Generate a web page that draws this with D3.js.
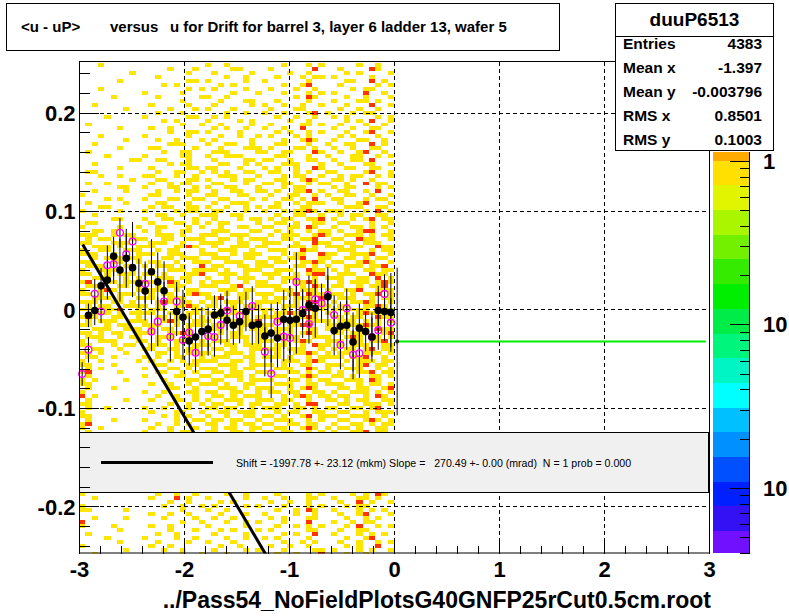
<!DOCTYPE html>
<html><head><meta charset="utf-8">
<script src="https://cdn.jsdelivr.net/npm/d3@7"></script>
<style>
body{margin:0;background:#fff}
text{font-family:"Liberation Sans",Arial,Helvetica,sans-serif}
</style>
</head><body>
<svg id="c" width="789" height="616" xmlns="http://www.w3.org/2000/svg"></svg>
<script>
// ---------------- data ----------------
const xTicks = [-3, -2, -1, 0, 1, 2, 3];
const yTicks = [-0.2, -0.1, 0, 0.1, 0.2];
const titleParts = ["<u - uP>", "versus", "u for Drift for barrel 3, layer 6 ladder 13, wafer 5"];
const xAxisTitle = "../Pass54_NoFieldPlotsG40GNFP25rCut0.5cm.root";
const statName = "duuP6513";
const statLabels = ["Entries", "Mean x", "Mean y", "RMS x", "RMS y"];
const statValues = ["4383", "-1.397", "-0.003796", "0.8501", "0.1003"];
const legendText = "Shift = -1997.78 +- 23.12 (mkm) Slope =   270.49 +- 0.00 (mrad)  N = 1 prob = 0.000";

// 2D histogram: x bins of 0.06 from -3, y bins of 0.004 from 0.25 downward
// '.' empty, 'y' low content (yellow), 'r' higher content (red)
const cellX0 = -3, cellDX = 0.06, cellY0 = 0.25, cellDY = 0.004;
const cellRows = [
"...y...... .......... y..y...... ..y...y.y. ....y..y..",
".......... ....y...y. ....yy.... y......r.. .y....ry..",
"........y. .......y.. .y.....y.. ...y..y... ..y.y....y",
".......... ..y....... ...y..y... .y...y.yy. y.....y...",
"......y... .......yy. y.....y..y ......y... ..yy..r.y.",
".......... ...y.y.... ..y.y..... ..y..yr... .y.....y.y",
"...y...... .......y.y .y....y... y...y..y.. ...y.yy...",
".......... y.....y... ....y...y. ..y...y.y. y....r..y.",
".....y.... ..y......y y..y...... ....y.ry.. ..y..y...y",
".......... ......y... ..y...yy.. .y....y... y...yy.y..",
"..y....... .y.....y.. .y.....y.y ..y..y..y. ..y...r..y",
".......y.. ....y...y. y...y..... y...yy.... .y..y..y..",
".......... ..y...y... ...y..y..y ..y...yr.y ...y.yy...",
"....y..... y......yy. .y.y...... .y..y..y.. y.y....y.y",
".......... ...y.y.... y....y.y.. ...y..y... ..y.y.r..y",
".y........ ......y..y ..y....y.. y....yy.y. .y...y..y.",
"......y... .y..y..... .y.y..y..y ..y..r.... y..y..yy..",
".......... ....y..yy. y....y.... .y.y..y.y. ..y..yr..y",
"...y...... y......y.. ..y..y..y. y...y.y... .y.y...y..",
".......y.. ..y..y...y .y.....y.. ..y..yry.. y...yy..y.",
"..y....... ....yyy... y..yy..y.. .yy...y..y ..yy..r.y.",
"......y... .yy.....y. ..y...yyy. y...yy.y.. y..y..yy..",
".y........ ...y..yy.. .yyy....yy ..yy...ry. .y..yr..y.",
"....y..... y.....yy.. y..yyy.... .yy...y..y ...yy..y.y",
"........yy ..yy...y.. .y....yy.y y..y..yy.. y..yy.r...",
"..y....... ....y.yy.. ..yy..y.y. ..yyy...y. .y...yy..y",
"......y... .y.....yy. yy...y...y .y..y..ry. ..yy..yy..",
".yy....... ..y..yy..y .y.y..yy.. yy..y.y..y y....yr..y",
"...y..y... yy...y..y. ..yyy...y. ..y.yy..y. .y.yy..y.y",
"........y. ..yy...yy. y...y.yy.. .yy..yry.. yy.y..y...",
".y..y..... .y..y.yy.. .yy...y..y y.yy..y.yy ..y..r.yy.",
"......yy.. y...yy..y. y..yy...y. ..y.yy.... y.yy...y.y",
"..y....y.. ..y..y.yy. .y..yy..yy .y..yyr.y. .yy..y.r..",
"y......... .yy....y.. yy...yy... y..yy..y.y ..yy..y..y",
"....y.y... y...yy..yy ..yy...y.y ..yy.y.r.. yy...y.yy.",
".y.....y.. ..yy...y.. .y..yyy... .y..y.yyy. .y..yr...y",
"...yy..... .y.yy..yy. y..y..y.y. yy...yy... ..yyy..yy.",
"y.....y... y....y.yy. .yy...y..y ..y.yyry.y yy...y.r.y",
"..y....... ..yy..y..y yy..yy.... .y..yy..y. .y.yy..yy.",
".....yy... y..yy...y. .y...y.yy. y.yy..yyr. y..y.yr.yy",
".yy....... .y...yy.y. y.yy....y. .yy.y..yy. .yy...y..y",
"y.....y..y ..yy...y.y ..y..yy..y y..yy.ry.. y..yy.y.y.",
"..yy.y.... y.y...yy.. .yyy...yy. .y.y..y.yy .y..yrr..y",
"yyy..y.yy. ..yyy.y..y yy..yyy... y.yyy..yry ..yyy.y.yy",
".y.yy...yy y..yy..yyy ..yy.y.yyy ..yy.yyr.. yy..ryy..y",
"yy...yyy.. .yyy..y..y yyy..yy..y yy..y..ryy ..yy.yyy..",
"..yyy.y..y yy...yyry. .y..yyy.yy ...yyy.y.y yy.yy..ryy",
"y..yy..yyy ..y.yy...y ..yyy..y.. yyy..ryy.. .yyy..y.yy",
"yyy..y...y yy..yyy..y yy..y.yyy. ..y.yy..ry y..yyyr..y",
"..y.yyy.yy ...yy.yyy. .yyy..yy.. yy.yyr..yy ..yy.y.yy.",
"yy...yy..y .yy..y..yy y..yyy..yy .yy..yyry. yy..yry..y",
".yyy...yy. y.yyy.y..r .yy..yy.yy y...yy.y.y ..yyy.yyr.",
"y..yyy..y. .y..yyy.yy yy.y..yyy. .yyy..ryy. y.y..yy.yy",
"yy..y.yyy. yy.y...yyr ..yyy.y..y yy..y.yrr. .yyy..ryy.",
"..yyy..y.y ..yyy.yy.. y..y.yyy.. y.yyy..y.y yy..yy.r.y",
"yr..yy.yy. yy..ry.y.y .yyy..y.yy ..y.yyry.. .y.yyy.yry",
".yyy..yy.y ..y.yyy..y yy..yr..yy yy...y.ry. yy..y.yyr.",
"y..yry...y yyy..y.yy. ..yyy.yy.. .yyy.yyy.y ..yyr..yyy",
"yy.y..yyy. .y.yy..yry y..y.yy.yy y..yr.ryy. yy.y.yyr.y",
"..yyy.y..y yy..yyy... yyr..yy..y .yy.yyy.ry .yyy..y.yy",
"yyy..yy.y. ..yry.yy.y .y.yyy..yy yy..y.rry. y..yyry..y",
".y.yy..yyy y.y..yyry. yy..y.yyy. ..yyy.y.yy .yy..yyry.",
"yy..yyr..y .yyy.y..yy ..yry..yyy y.y..yrry. yy.yyy..yy",
"..yyy.y.yy yy..yy.yy. yy..yyy..y .yyry..y.y ..y.yryy.y",
"yry..yy..y ..yy.yyy.y .yyy..y.yy yy..yyry.. yy.yy..ryy",
".y.yyy..yy y..yry..yy y..yy.yyr. .yy.y.yyyy .yyy.y.y.y",
"yy..y.yy.. yyy..y.yyy .yy.yyy..y y..yyrr..y y..yyryy..",
"..yyy..yyy .y.yy..y.. yyy..y.yyy .yyy..yy.y .yy..y.ryy",
"yy.y.yy..y yy..yyry.y ..y.yy..yy yy.y.yry.. yy.yyy..yr",
".yyy..y.yy ..yyy..yy. yy..yyy.y. ..yyy..yyy ..yry.yy.y",
"y..yyy...y y.y..yyy.y .yyy..y.yy y.y.yry..y yy..y.yyr.",
"yy...y.yy. .yyy.y..yy y..yy.yyy. .yy..y.ryy .y.yyy..yy",
"..yy..y... yy..yy.yy. .yy.y..yyy yy.yyy..y. y.yy.yr.yy",
"yy.y...y.. ..yy.y.yyy y..yyy.y.. .y..yyry.y .yy..yyy.y",
".yy..y.... y.y..yy..y .yyy..yy.y yy.y..y.yy yy.yyr..y.",
"y..y.....y .y..y.y.yy yy..yy.y.. ..yyy.yry. ..y.yyy.yy",
"yy...y.... ..yy...yy. ..yyy..yyy y.y..yy..y yy..yr.yy.",
".y.y...... y...yy.y.y yy..y.yy.. .yyy..ry.y ..yyy..y.y",
"yr....y... ..yy..y.y. .yy.yy..yy y..yy.y.yy .y..yyr.yy",
".y........ y....yy..y y..yyy.y.. .yy..yry.. yy.y..yy.y",
"y.y....y.. ...y...yy. .yy..y.yyy y..yy.y.yy ..yyy.ry..",
"yy........ .y..y..y.y yy.y..yy.. .yyy..yy.y yy..y.yy.y",
".y...y.... ....yy..y. ..yyy.y.yy y..y.yry.. .yy.yy..yr",
"y......... y..y...yy. yy..yy..y. yy.yy..yy. y..yyy.y.y",
"r.y....... ..y..y..y. .yy.y.yyy. ..y.yry.yy .yy..y.ry.",
".y.....y.. .y...yy.y. y..yyy..yy y.yy..y..y y.y.yy..yy",
"yy........ ....y..y.y .yy..y.yy. .yy.y.rr.. .yy..yyy.y",
".y..y..... y..y...y.. yy.yy..y.y yy..yy.y.y y..yy.yr..",
"y......... .y...yy..y ..yy.yyy.. .y.yy..yy. .yy..y.yyy",
"yy........ ...y.y.y.. y..y..yy.y y.y..yr.yy y..yyy..y.",
".y...y.... y....y..yy .yy.yy..y. .yyy..y.y. .yy..yry.y",
"yr........ ..y..y.y.. yy..y.yy.y y..yy.yy.. y..yy.y.yy",
"y..y...... .y..y...y. .y.yy..yy. .yy..yry.y .yy.y..yy.",
".y........ y...y.yy.. yy..yy.y.y y.yy..y.y. y..yyr.yy.",
"", "", "", "", "", "", "", "", "", "", "", "", "", "", "",
"y......... ..y..y..y. ...y..y... .y....y.y. ...y.y.ry.",
"..y....... .y...r.y.. y.....y..y ..y...yy.. y...yy.y..",
".......... ....y..y.. ..y.y..... y..y..y... .y..r.y..y",
"y......... ...y..y..y .y....y.y. ..y...y.y. ..y.yy....",
"yy.....y.. ......y... y..y...... .y..y.ry.. y...y.y.y.",
".......... .y..y..y.. ..y...y..y ....y..y.. .y..yr...y",
"..y....y.. ...y....y. .y..y..... y.y...yy.. ..y..y.y..",
"r......... ......y..y ...y..y.y. ..y...r... y..y.yy...",
"y....y.... .y..y..... y.....y... .y..y.y.y. ..y.r..y.y",
"......y... ....y...y. ..y.y...y. y.....yy.. .y..yy....",
".y........ ..y..y.... .y....y... ..y.y..r.. y...y.y.y.",
"....y..... y....y..y. ...y..y..y .y....y... ..y..yr...",
"......y... ..y....y.. y...y..... ..y..y.y.. .y..y..y.y",
"y......... .y..y..... ..y..y.... y..y..y... ..y.y..r..",
".......y.. ...y..y... .y....y.y. ..y....yy. y...y.y..y",
"..y....... ......y..y ...y...... .y..y...r. ..y..y...."
];
const cellColors = {y: "#ffe600", r: "#ff3300"};

// profile (black, filled) : bin centre, mean, error
const blackX = [-2.91,-2.85,-2.79,-2.73,-2.67,-2.61,-2.55,-2.49,-2.43,-2.37,-2.31,-2.25,-2.19,
  -2.07,-2.01,-1.95,-1.89,-1.83,-1.77,-1.71,-1.65,-1.59,-1.53,-1.47,-1.41,-1.35,-1.29,-1.23,-1.17,-1.11,-1.05,-0.99,-0.93,-0.87,-0.81,-0.75,
  -0.63,-0.57,-0.51,-0.45,-0.39,-0.33,-0.27,-0.21,-0.15,-0.09,-0.03];
const blackY = [-0.006,-0.001,0.024,0.030,0.054,0.040,0.052,0.0425,0.0266,0.0188,0.0384,0.028,0.019,
  -0.002,-0.008,-0.032,-0.028,-0.0225,-0.020,-0.0056,-0.0039,-0.011,-0.016,-0.0124,-0.002,-0.016,-0.015,-0.027,-0.024,-0.029,-0.010,-0.011,-0.010,-0.004,0.0046,0.0012,
  0.013,-0.0215,-0.017,-0.016,-0.033,-0.019,-0.0225,-0.028,-0.001,-0.002,-0.003];
const blackErr = [0.012,0.015,0.018,0.02,0.02,0.032,0.03,0.03,0.025,0.03,0.033,0.03,0.03,
  0.025,0.028,0.025,0.03,0.025,0.022,0.02,0.02,0.022,0.02,0.022,0.02,0.02,0.02,0.022,0.03,0.03,0.03,0.035,0.035,0.025,0.03,0.03,
  0.03,0.025,0.025,0.025,0.03,0.025,0.02,0.025,0.025,0.03,0.04];

// second profile (magenta, open)
const magX = [-2.97,-2.91,-2.85,-2.79,-2.73,-2.67,-2.61,-2.55,-2.49,-2.37,-2.31,-2.25,-2.19,-2.13,-2.07,-2.01,-1.95,-1.89,
  -1.77,-1.71,-1.65,-1.59,-1.47,-1.35,-1.23,-1.17,-1.11,-1.05,-0.99,-0.93,-0.87,-0.81,-0.75,-0.69,-0.63,-0.57,-0.51,-0.45,-0.39,-0.33,
  -0.21,-0.15,-0.09,-0.03];
const magY = [-0.0656,-0.041,0.016,-0.002,0.045,0.046,0.078,0.056,0.069,0.026,-0.0225,-0.0124,0.008,-0.028,0.008,-0.031,-0.0235,-0.044,
  -0.027,-0.028,-0.0157,-0.001,-0.0066,0.0036,-0.043,-0.065,-0.0124,-0.0276,-0.029,0.028,-0.0005,-0.0147,0.0104,0.0063,0.0147,-0.0056,-0.036,0.0012,-0.046,-0.0445,
  -0.028,-0.021,0.0158,-0.0134];
const magErr = [0.012,0.013,0.015,0.012,0.02,0.02,0.015,0.02,0.02,0.02,0.02,
  0.025,0.02,0.025,0.02,0.02,0.02,0.02,0.02,0.02,0.02,0.02,
  0.02,0.02,0.025,0.025,0.02,0.025,0.025,0.03,0.02,0.02,0.02,
  0.02,0.02,0.02,0.025,0.02,0.025,0.025,0.02,0.02,0.02,0.025];

// edge bin and flat green line
const edgeX = [0.03], edgeY = [-0.0326], edgeErr = [0.075];
const greenX = [0.03, 2.97], greenY = [-0.0326, -0.0326];

// straight-line fit
const fitIntercept = -0.4695, fitSlope = -0.1806;
const fitRange = [-2.965, -1.1];

// colour palette (log z)
const zDomain = [0.0040, 1.138];
const paletteLevels = [1.138,1,0.706,0.499,0.352,0.249,0.176,0.124,0.0877,0.062,0.0438,0.0309,0.0219,0.0154,0.0109,0.0077,0.00544,0.0040];
const paletteColors = ["#ffaa00","#ffe000","#e2f500","#aaf500","#72f000","#35ec00","#00ee00","#00ec48","#00f57c","#00f5c4",
  "#00ffff","#00c0ff","#0090ff","#0050ff","#0020ff","#3410f5","#7010ff"];
const zMajor = [1, 0.1, 0.01];
const zLabels = ["1", "10", "10"];

// ---------------- drawing ----------------
const svg = d3.select("#c");
const L = 79, R = 709, T = 61.5, B = 553.5;
const x = d3.scaleLinear().domain([-3, 3]).range([L, R]);
const y = d3.scaleLinear().domain([-0.248, 0.252]).range([B, T]);

svg.append("defs").append("clipPath").attr("id","plotclip")
  .append("rect").attr("x",L).attr("y",T).attr("width",R-L).attr("height",B-T);

// cells
const cells = [];
cellRows.forEach((row, j) => {
  row.replace(/ /g, "").split("").forEach((ch, i) => {
    if (ch !== "." && i < 50) cells.push({i, j, c: ch});
  });
});
svg.append("g").attr("clip-path","url(#plotclip)").attr("shape-rendering","crispEdges")
  .selectAll("rect").data(cells).join("rect")
  .attr("x", d => x(cellX0 + d.i*cellDX))
  .attr("width", d => x(cellX0 + (d.i+1)*cellDX) - x(cellX0 + d.i*cellDX))
  .attr("y", d => y(cellY0 - d.j*cellDY))
  .attr("height", d => y(cellY0 - (d.j+1)*cellDY) - y(cellY0 - d.j*cellDY))
  .attr("fill", d => cellColors[d.c]);

// grid
const grid = svg.append("g").attr("stroke","#000").attr("stroke-width",1).attr("stroke-dasharray","4,3").attr("shape-rendering","crispEdges");
xTicks.filter(v => v > -3 && v < 3).forEach(v => {
  grid.append("line").attr("x1", Math.round(x(v))+0.5).attr("x2", Math.round(x(v))+0.5).attr("y1", T).attr("y2", B);
});
yTicks.forEach(v => {
  grid.append("line").attr("y1", Math.round(y(v))+0.5).attr("y2", Math.round(y(v))+0.5).attr("x1", L).attr("x2", R);
});

// error bars
const eb = svg.append("g").attr("stroke","#000").attr("stroke-width",1).attr("clip-path","url(#plotclip)");
magX.forEach((v, k) => {
  eb.append("line").attr("x1", x(v)).attr("x2", x(v)).attr("y1", y(magY[k]+magErr[k])).attr("y2", y(magY[k]-magErr[k]));
});
blackX.forEach((v, k) => {
  eb.append("line").attr("x1", x(v)).attr("x2", x(v)).attr("y1", y(blackY[k]+blackErr[k])).attr("y2", y(blackY[k]-blackErr[k]));
});
edgeX.forEach((v, k) => {
  eb.append("line").attr("x1", x(v)).attr("x2", x(v)).attr("y1", y(edgeY[k]+edgeErr[k])).attr("y2", y(edgeY[k]-edgeErr[k]));
});

// markers
svg.append("g").selectAll("circle").data(magX).join("circle")
  .attr("cx", d => x(d)).attr("cy", (d, k) => y(magY[k])).attr("r", 3.4)
  .attr("fill", "none").attr("stroke", "#ff00ff").attr("stroke-width", 1.3);
svg.append("g").selectAll("circle").data(blackX).join("circle")
  .attr("cx", d => x(d)).attr("cy", (d, k) => y(blackY[k])).attr("r", 3.8)
  .attr("fill", "#000");

// fit line
svg.append("line").attr("clip-path","url(#plotclip)")
  .attr("x1", x(fitRange[0])).attr("y1", y(fitIntercept + fitSlope*fitRange[0]))
  .attr("x2", x(fitRange[1])).attr("y2", y(fitIntercept + fitSlope*fitRange[1]))
  .attr("stroke", "#000").attr("stroke-width", 3);

// green line
svg.append("path").datum(greenX.map((v,k)=>[v, greenY[k]]))
  .attr("d", d3.line().x(d => x(d[0])).y(d => y(d[1])))
  .attr("stroke", "#00ee00").attr("stroke-width", 2).attr("fill","none");
svg.append("g").selectAll("circle").data(edgeX).join("circle")
  .attr("cx", d => x(d)).attr("cy", (d,k) => y(edgeY[k])).attr("r", 2).attr("fill", "#222");

// legend box
svg.append("rect").attr("x", L+0.5).attr("y", 432.5).attr("width", R-L-1).attr("height", 60)
  .attr("fill", "#f0f0f0").attr("stroke", "#000").attr("stroke-width", 1);
svg.append("line").attr("x1", 101).attr("x2", 213).attr("y1", 462.5).attr("y2", 462.5)
  .attr("stroke", "#000").attr("stroke-width", 3);
svg.append("text").attr("x", 236).attr("y", 466.5).attr("font-size", 10.6)
  .attr("xml:space","preserve").style("white-space","pre").text(legendText);

// frame
svg.append("rect").attr("x", L+0.5).attr("y", T).attr("width", R-L).attr("height", B-T-0.5)
  .attr("fill","none").attr("stroke","#000").attr("stroke-width",1);

// axes
const fmt = d => String(d);
const gx = svg.append("g").attr("transform", `translate(0,${B})`);
gx.call(d3.axisBottom(x).tickValues(xTicks).tickSize(-15).tickSizeOuter(0).tickPadding(8).tickFormat(fmt));
const gxm = svg.append("g").attr("transform", `translate(0,${B})`);
gxm.call(d3.axisBottom(x).tickValues(d3.range(-3, 3.001, 0.2)).tickSize(-7.5).tickSizeOuter(0).tickFormat(""));
const gy = svg.append("g").attr("transform", `translate(${L+0.5},0)`);
gy.call(d3.axisLeft(y).tickValues(yTicks).tickSize(-19).tickSizeOuter(0).tickPadding(4).tickFormat(fmt));
const gym = svg.append("g").attr("transform", `translate(${L+0.5},0)`);
gym.call(d3.axisLeft(y).tickValues(d3.range(-0.24, 0.2501, 0.02)).tickSize(-10).tickSizeOuter(0).tickFormat(""));
[gx, gxm, gy, gym].forEach(g => {
  g.select(".domain").remove();
  g.selectAll("line").attr("stroke","#000").attr("shape-rendering","crispEdges");
  g.selectAll("text").attr("font-family",'"Liberation Sans",Arial,sans-serif').attr("font-weight","bold")
    .attr("font-size",22).attr("fill","#000");
});
gy.selectAll("text").attr("dy","0.36em");

svg.append("text").attr("x", 711).attr("y", 608).attr("text-anchor","end")
  .attr("font-weight","bold").attr("font-size",23).text(xAxisTitle);

// palette
const z = d3.scaleLog().domain(zDomain).range([553, 151.5]);
const pal = svg.append("g").attr("shape-rendering","crispEdges");
paletteColors.forEach((c, k) => {
  pal.append("rect").attr("x", 713).attr("width", 36)
    .attr("y", z(paletteLevels[k])).attr("height", z(paletteLevels[k+1]) - z(paletteLevels[k]))
    .attr("fill", c);
});
const zt = svg.append("g").attr("stroke","#000").attr("shape-rendering","crispEdges");
zt.append("line").attr("x1", 749.5).attr("x2", 749.5).attr("y1", z(zDomain[1])).attr("y2", z(zDomain[0]));
z.ticks().forEach(v => {
  const major = zMajor.some(m => Math.abs(m - v) < 1e-9);
  zt.append("line").attr("x1", 749.5).attr("x2", major ? 730 : 740)
    .attr("y1", Math.round(z(v))+0.5).attr("y2", Math.round(z(v))+0.5);
});
zMajor.forEach((v, k) => {
  svg.append("text").attr("x", 763).attr("y", z(v) + 8).attr("font-weight","bold").attr("font-size",22).text(zLabels[k]);
});

// stats box
const sb = svg.append("g");
sb.append("rect").attr("x", 615.5).attr("y", 3.5).attr("width", 158).attr("height", 147)
  .attr("fill","#fff").attr("stroke","#000");
sb.append("line").attr("x1", 615.5).attr("x2", 773.5).attr("y1", 36.5).attr("y2", 36.5).attr("stroke","#000");
sb.append("text").attr("x", 694.5).attr("y", 26).attr("text-anchor","middle")
  .attr("font-weight","bold").attr("font-size",19).text(statName);
statLabels.forEach((s, k) => {
  sb.append("text").attr("x", 623).attr("y", 48.5 + k*24.2).attr("font-weight","bold").attr("font-size",15.5).text(s);
  sb.append("text").attr("x", 762).attr("y", 48.5 + k*24.2).attr("text-anchor","end").attr("font-weight","bold").attr("font-size",15.5).text(statValues[k]);
});

// title box
svg.append("rect").attr("x", 6.5).attr("y", 3.5).attr("width", 553).attr("height", 47)
  .attr("fill","#fff").attr("stroke","#000");
const titleX = [21, 110, 170];
titleParts.forEach((s, k) => {
  svg.append("text").attr("x", titleX[k]).attr("y", 32).attr("font-weight","bold").attr("font-size",15).text(s);
});
</script>
</body></html>
